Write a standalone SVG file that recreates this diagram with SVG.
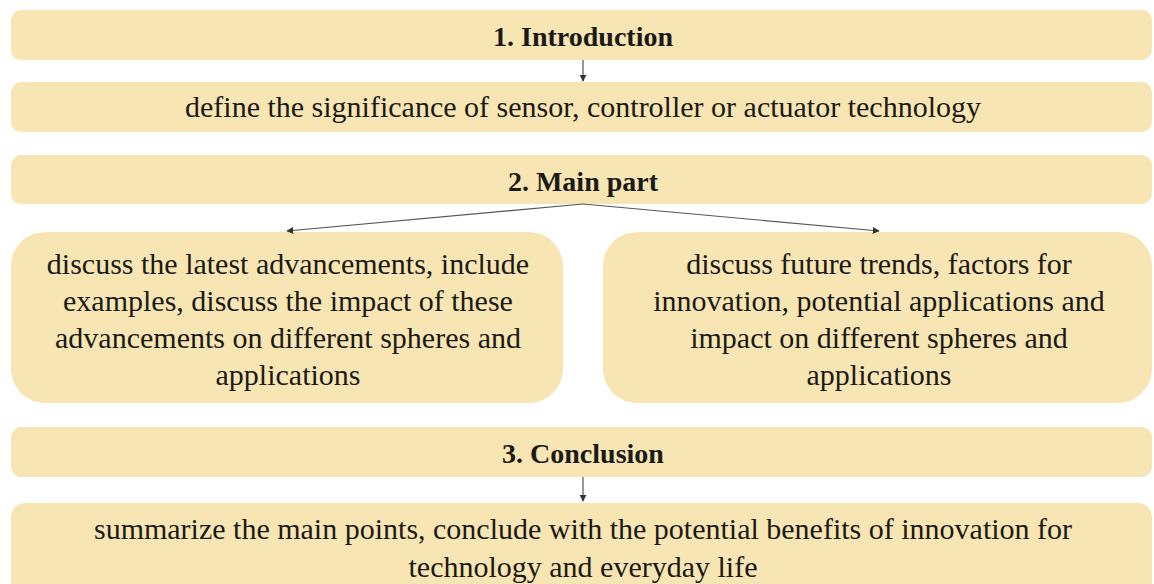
<svg xmlns="http://www.w3.org/2000/svg" width="1154" height="584" viewBox="0 0 1154 584">
  <style>
    .box { fill: #F7E6B4; }
    .head { font-family: "Liberation Serif", "DejaVu Serif", serif; font-size: 28px; font-weight: bold; fill: #1c1a16; text-anchor: middle; }
    .body { font-family: "Liberation Serif", "DejaVu Serif", serif; font-size: 30px; fill: #1c1a16; text-anchor: middle; }
    .link { stroke: #555; stroke-width: 1.2; fill: none; marker-end: url(#arrow); }
  </style>
  <defs>
    <marker id="arrow" viewBox="0 0 10 10" refX="9" refY="5" markerWidth="7" markerHeight="7" markerUnits="userSpaceOnUse" orient="auto">
      <path d="M0,0 L10,5 L0,10 z" fill="#333"/>
    </marker>
  </defs>

  <rect width="1154" height="584" fill="#ffffff"/>

  <g id="introduction">
    <rect class="box" x="11" y="10" width="1141" height="50" rx="10"/>
    <text class="head" x="583" y="46">1. Introduction</text>
  </g>

  <g id="significance">
    <rect class="box" x="11" y="82" width="1141" height="50" rx="10"/>
    <text class="body" x="583" y="117">define the significance of sensor, controller or actuator technology</text>
  </g>

  <g id="main-part">
    <rect class="box" x="11" y="155" width="1141" height="49" rx="10"/>
    <text class="head" x="583" y="191">2. Main part</text>
  </g>

  <g id="advancements">
    <rect class="box" x="11" y="232" width="552" height="171" rx="34"/>
    <text class="body" x="288" y="274">discuss the latest advancements, include</text>
    <text class="body" x="288" y="311">examples, discuss the impact of these</text>
    <text class="body" x="288" y="348">advancements on different spheres and</text>
    <text class="body" x="288" y="385">applications</text>
  </g>

  <g id="future-trends">
    <rect class="box" x="603" y="232" width="549" height="171" rx="34"/>
    <text class="body" x="879" y="274">discuss future trends, factors for</text>
    <text class="body" x="879" y="311">innovation, potential applications and</text>
    <text class="body" x="879" y="348">impact on different spheres and</text>
    <text class="body" x="879" y="385">applications</text>
  </g>

  <g id="conclusion">
    <rect class="box" x="11" y="427" width="1141" height="50" rx="10"/>
    <text class="head" x="583" y="463">3. Conclusion</text>
  </g>

  <g id="summary">
    <rect class="box" x="11" y="503" width="1141" height="100" rx="14"/>
    <text class="body" x="583" y="539">summarize the main points, conclude with the potential benefits of innovation for</text>
    <text class="body" x="583" y="577">technology and everyday life</text>
  </g>

  <g id="connectors">
    <line class="link" x1="583" y1="60" x2="583" y2="81"/>
    <line class="link" x1="583" y1="204" x2="287" y2="231"/>
    <line class="link" x1="583" y1="204" x2="879" y2="231"/>
    <line class="link" x1="583" y1="477" x2="583" y2="501"/>
  </g>
</svg>
